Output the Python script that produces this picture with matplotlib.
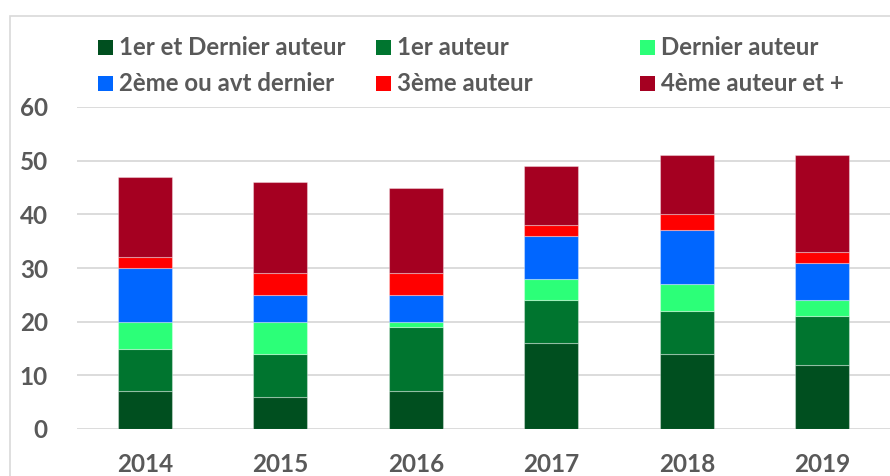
import matplotlib
matplotlib.use("Agg")
import matplotlib.pyplot as plt
from matplotlib.patches import Rectangle
import numpy as np

years = ["2014", "2015", "2016", "2017", "2018", "2019"]
series_names = ["1er et Dernier auteur", "1er auteur", "Dernier auteur",
                "2ème ou avt dernier", "3ème auteur", "4ème auteur et +"]
premier_et_dernier = [7, 6, 7, 16, 14, 12]
premier = [8, 8, 12, 8, 8, 9]
dernier = [5, 6, 1, 4, 5, 3]
deuxieme_avt_dernier = [10, 5, 5, 8, 10, 7]
troisieme = [2, 4, 4, 2, 3, 2]
quatrieme_plus = [15, 17, 16, 11, 11, 18]
colors = ["#004F1F", "#00752F", "#2CFF78", "#0066FF", "#FF0000", "#A50021"]
y_ticks = [0, 10, 20, 30, 40, 50, 60]

series = [premier_et_dernier, premier, dernier, deuxieme_avt_dernier, troisieme, quatrieme_plus]

W, H = 890, 476
fig = plt.figure(figsize=(W / 100, H / 100), dpi=100)
plt.rcParams['font.family'] = ['Lato', 'DejaVu Sans']
txt_color = "#595959"
grid_color = "#D9D9D9"

# outer chart border
fig.patches.append(Rectangle((10 / W, -0.1), 1.1, (H - 16) / H + 0.1, transform=fig.transFigure,
                             fill=False, edgecolor=grid_color, linewidth=1.2))

ax = fig.add_axes([77 / W, (H - 429) / H, (890 - 77) / W, (429 - 107) / H])
x = np.arange(len(years))
bottom = np.zeros(len(years))
for vals, col in zip(series, colors):
    ax.bar(x, vals, width=0.4, bottom=bottom, color=col,
           edgecolor=(1, 1, 1, 0.35), linewidth=0.8, zorder=3)
    bottom += np.array(vals)

ax.set_xlim(-0.5, len(years) - 0.5)
ax.set_ylim(0, 60)
ax.set_yticks(y_ticks)
ax.set_xticks(x)
ax.set_xticklabels(years)
for s in ax.spines.values():
    s.set_visible(False)
ax.yaxis.grid(True, color=grid_color, linewidth=1.3, zorder=0)
ax.set_axisbelow(True)
ax.tick_params(axis='both', length=0, labelsize=17.5, labelcolor=txt_color)
ax.tick_params(axis='y', pad=21)
ax.tick_params(axis='x', pad=17)
for lab in ax.get_xticklabels() + ax.get_yticklabels():
    lab.set_fontweight('bold')

# legend (manual, row-wise)
col_x = [98, 376, 640]
row_y = [47.5, 83.5]
sq = 15
for i, (name, col) in enumerate(zip(series_names, colors)):
    r, c = divmod(i, 3)
    x0 = col_x[c]
    yc = row_y[r]
    fig.patches.append(Rectangle((x0 / W, (H - yc - sq / 2) / H), sq / W, sq / H,
                                 transform=fig.transFigure, facecolor=col, edgecolor='none'))
    fig.text((x0 + sq + 6) / W, (H - yc) / H, name, fontsize=17.3, fontweight='bold',
             color=txt_color, va='center', ha='left')

fig.savefig("out.png", dpi=100)
